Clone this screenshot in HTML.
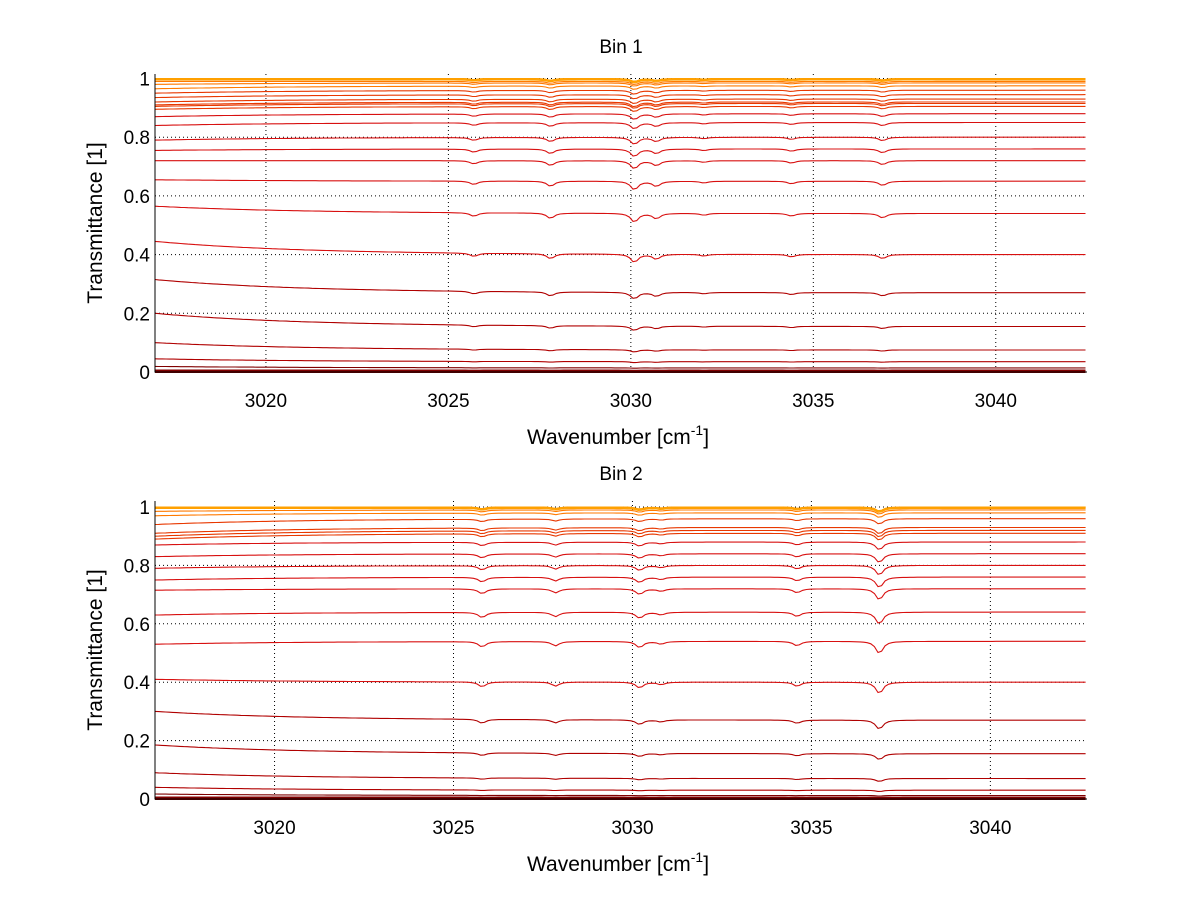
<!DOCTYPE html>
<html><head><meta charset="utf-8"><style>
html,body{margin:0;padding:0;background:#fff;width:1200px;height:901px;overflow:hidden}
svg{display:block}
text{font-family:"Liberation Sans",sans-serif;fill:#000}
</style></head><body>
<svg id="chart" width="1200" height="901" viewBox="0 0 1200 901"></svg>
<script>
// ---- data ----
const xTicks = [3020, 3025, 3030, 3035, 3040];
const yTicks = [0, 0.2, 0.4, 0.6, 0.8, 1];
const yTickLabels = ["0", "0.2", "0.4", "0.6", "0.8", "1"];
const peakCenters1 = [3025.7, 3027.8, 3030.1, 3030.7, 3032.0, 3034.4, 3036.9];
const peakStrength1 = [0.04, 0.06, 0.10, 0.06, 0.02, 0.03, 0.05];
const peakCenters2 = [3025.8, 3027.85, 3030.2, 3030.8, 3034.6, 3036.9];
const peakStrength2 = [0.06, 0.05, 0.07, 0.03, 0.05, 0.14];
const levels1 = [1.0, 1.0, 0.998, 0.995, 0.99, 0.985, 0.975, 0.96, 0.945, 0.93, 0.92, 0.915, 0.905, 0.88, 0.85, 0.80, 0.76, 0.72, 0.65, 0.54, 0.40, 0.27, 0.155, 0.075, 0.035, 0.014, 0.005, 0.002, 0.0];
const leftOffsets1 = [0, 0, 0, 0, 0, -0.005, -0.01, -0.01, -0.01, -0.01, -0.01, -0.01, -0.01, -0.01, -0.01, -0.01, -0.005, 0, 0.005, 0.025, 0.045, 0.045, 0.045, 0.025, 0.01, 0.005, 0, 0, 0];
const levels2 = [1.0, 1.0, 0.998, 0.995, 0.99, 0.98, 0.96, 0.93, 0.92, 0.91, 0.88, 0.84, 0.80, 0.76, 0.72, 0.64, 0.54, 0.40, 0.27, 0.155, 0.07, 0.03, 0.012, 0.005, 0.0];
const leftOffsets2 = [0, 0, 0, 0, -0.005, -0.01, -0.02, -0.02, -0.02, -0.02, -0.01, -0.01, -0.01, -0.01, -0.005, -0.01, -0.01, 0.01, 0.03, 0.03, 0.02, 0.01, 0.005, 0, 0];

const NS = "http://www.w3.org/2000/svg";
const svg = document.getElementById('chart');
function mk(tag, attrs, parent) {
  const e = document.createElementNS(NS, tag);
  for (const k in attrs) e.setAttribute(k, attrs[k]);
  (parent || svg).appendChild(e);
  return e;
}
function colorFor(L) {
  if (L < 0.02) return '#800000';
  if (L < 0.3) return '#b00000';
  if (L < 0.9) return '#d81010';
  if (L < 0.97) return '#e83800';
  if (L < 0.993) return '#ff7a00';
  return '#ffa000';
}
function drawPanel(cfg) {
  const g = mk('g', {});
  
  
  const X = v => cfg.x0 + (v - cfg.xmin) / (cfg.xmax - cfg.xmin) * (cfg.x1 - cfg.x0);
  const Y = v => cfg.y0 - v * (cfg.y0 - cfg.y1);
  xTicks.forEach(t => {
    const l = mk('line', {x1: X(t), x2: X(t), y1: cfg.top, y2: cfg.y0, stroke: '#000', 'stroke-width': 1, 'stroke-dasharray': '1,3'}, g);
    
    
  });
  yTicks.forEach(t => {
    const l = mk('line', {x1: cfg.x0, x2: cfg.x1, y1: Y(t), y2: Y(t), stroke: '#000', 'stroke-width': 1, 'stroke-dasharray': '1,3'}, g);
    
    
  });
  cfg.levels.forEach((L, i) => {
    let d = '';
    for (let w = cfg.xmin; w <= cfg.xmax + 1e-9; w += 0.1) {
      let v = L + cfg.offsets[i] * Math.exp(-(w - cfg.xmin) / 4);
      let a = 0;
      cfg.centers.forEach((c, k) => { a += cfg.strengths[k] / (1 + ((w - c) / 0.12) ** 2); });
      v -= a * L * (1.1 - L);
      v = Math.min(v, 1.005);
      d += (d ? 'L' : 'M') + X(w).toFixed(1) + ',' + Y(v).toFixed(1);
    }
    const p = mk('path', {d: d, fill: 'none', stroke: colorFor(L), 'stroke-width': L < 0.01 ? 2 : 1.1}, g);
    
    
  });
  const ax = mk('path', {d: `M${cfg.x0},${cfg.top}V${cfg.y0}H${cfg.x1}`, fill: 'none', stroke: '#000', 'stroke-width': 1}, g);
  
  
  xTicks.forEach(t => {
    const tx = mk('text', {x: X(t), y: cfg.y0 + 35, 'font-size': 19, 'text-anchor': 'middle'}, g);
    tx.textContent = t;
    
    
  });
  yTicks.forEach((t, i) => {
    const tx = mk('text', {x: cfg.x0 - 5, y: Y(t) + 7, 'font-size': 19, 'text-anchor': 'end'}, g);
    tx.textContent = yTickLabels[i];
    
    
  });
  const title = mk('text', {x: 621, y: cfg.titleY, 'font-size': 19, 'text-anchor': 'middle'}, g);
  title.textContent = cfg.title;
  
  
  const xl = mk('text', {x: 618, y: cfg.y0 + 72, 'font-size': 21, 'text-anchor': 'middle'}, g);
  xl.innerHTML = 'Wavenumber [cm<tspan font-size="14" dy="-9">-1</tspan><tspan dy="9">]</tspan>';
  
  
  const cy = (cfg.top + cfg.y0) / 2;
  const yl = mk('text', {x: 102, y: cy, 'font-size': 21, 'text-anchor': 'middle', transform: `rotate(-90 102 ${cy})`}, g);
  yl.textContent = 'Transmittance [1]';
  
  
}
drawPanel({name: 'bin-1-panel', title: 'Bin 1', titleY: 53, x0: 155, x1: 1087, xmin: 3016.96, xmax: 3042.5, y0: 372, y1: 78.5, top: 74,
  levels: levels1, offsets: leftOffsets1, centers: peakCenters1, strengths: peakStrength1});
drawPanel({name: 'bin-2-panel', title: 'Bin 2', titleY: 480, x0: 155, x1: 1087, xmin: 3016.66, xmax: 3042.7, y0: 799, y1: 507, top: 501,
  levels: levels2, offsets: leftOffsets2, centers: peakCenters2, strengths: peakStrength2});
</script>
</body></html>
